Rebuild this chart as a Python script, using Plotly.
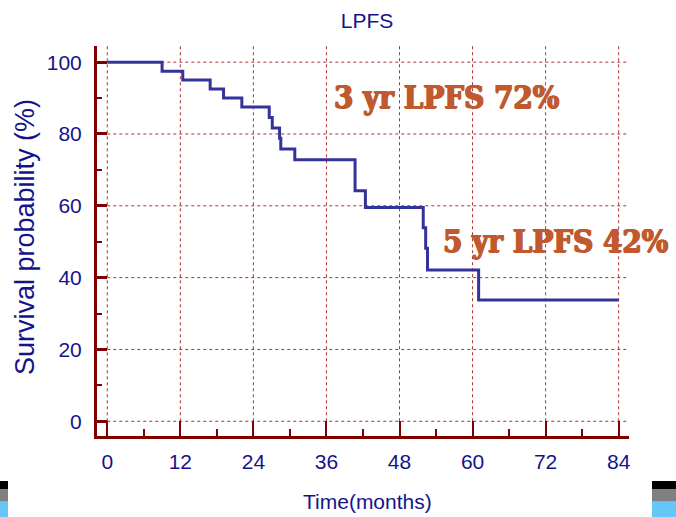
import plotly.graph_objects as go

# Kaplan-Meier estimate for local progression-free survival (LPFS)
event_months = [0, 9.0, 12.4, 16.9, 19.1, 22.1, 26.6, 27.1, 28.3, 28.5, 30.8,
                40.7, 42.4, 51.9, 52.3, 52.6, 61.0, 84.0]
survival_pct = [100, 97.5, 95.0, 92.5, 90.0, 87.5, 84.6, 81.7, 78.8, 75.8, 72.8,
                64.2, 59.5, 53.9, 48.2, 42.1, 33.8, 33.8]

x_ticks = [0, 12, 24, 36, 48, 60, 72, 84]
y_ticks = [0, 20, 40, 60, 80, 100]
x_range = [-1.69, 85.7]
y_range = [-4.1, 104.5]

milestones = ["3 yr LPFS 72%", "5 yr LPFS 42%"]
milestone_pos = [(55.8, 90.3), (73.7, 50.3)]

NAVY = "#14148a"
MAROON = "#800000"
GRID = "#a83232"
CURVE = "#333399"
LABEL = "#c05a2e"
SANS = "Liberation Sans, Arial"

fig = go.Figure()
fig.add_trace(go.Scatter(
    x=event_months, y=survival_pct, mode="lines",
    line=dict(shape="hv", color=CURVE, width=3),
    hoverinfo="x+y", showlegend=False,
))

# plot-area edges in pixels
L, R, T, B = 97, 629, 46, 436
def px_to_paper_x(px):
    return (px - L) / (R - L)
def px_to_paper_y(py):
    return (B - py) / (B - T)

shapes = []
# horizontal dotted grid from t=0 to the right edge
for v in y_ticks:
    shapes.append(dict(type="line", xref="x", yref="y", x0=0, x1=x_range[1],
                       y0=v, y1=v, layer="below",
                       line=dict(color=GRID, width=1, dash="dot")))
# vertical dotted grid from 0 % to the top edge
for t in x_ticks:
    shapes.append(dict(type="line", xref="x", yref="y", x0=t, x1=t,
                       y0=0, y1=y_range[1], layer="below",
                       line=dict(color=GRID, width=1, dash="dot")))

# colour swatches in the lower corners
swatches = [("#000000", 481, 489), ("#808080", 489, 501.7), ("#66c6f7", 501.7, 517)]
for col, top, bot in swatches:
    for x0, x1 in [(0, 8), (652, 676)]:
        shapes.append(dict(type="rect", xref="paper", yref="paper",
                           x0=px_to_paper_x(x0), x1=px_to_paper_x(x1),
                           y0=px_to_paper_y(bot), y1=px_to_paper_y(top),
                           line=dict(width=0), fillcolor=col, layer="above"))

annotations = []
for text, (ax, ay) in zip(milestones, milestone_pos):
    annotations.append(dict(
        x=ax, y=ay, xref="x", yref="y", text=text, showarrow=False,
        xanchor="center", yanchor="middle",
        font=dict(family="DejaVu Serif Condensed, DejaVu Serif, serif", size=31,
                  color=LABEL, weight="bold",
                  shadow=f"0.8px 0 0 {LABEL}, -0.8px 0 0 {LABEL}, 0 0.8px 0 {LABEL}"),
    ))

# axis titles
annotations.append(dict(
    text="Time(months)", xref="paper", yref="paper",
    x=px_to_paper_x(367), y=px_to_paper_y(501), xanchor="center", yanchor="middle",
    showarrow=False, font=dict(family=SANS, size=21, color=NAVY)))
annotations.append(dict(
    text="Survival probability (%)", xref="paper", yref="paper", textangle=-90,
    x=px_to_paper_x(25), y=px_to_paper_y(237), xanchor="center", yanchor="middle",
    showarrow=False, font=dict(family=SANS, size=27, color=NAVY)))

fig.update_layout(
    width=676, height=517,
    margin=dict(l=L, r=676 - R, t=T, b=517 - B, autoexpand=False),
    paper_bgcolor="white", plot_bgcolor="white",
    title=dict(text="LPFS", x=0.543, xanchor="center", y=1 - 21 / 517,
               yanchor="middle", font=dict(family=SANS, size=21, color=NAVY)),
    shapes=shapes, annotations=annotations,
    xaxis=dict(
        range=x_range, tickvals=x_ticks, showgrid=False, zeroline=False,
        showline=True, linecolor=MAROON, linewidth=3, automargin=False,
        ticks="inside", ticklen=15, tickwidth=2, tickcolor=MAROON,
        minor=dict(dtick=6, tick0=0, ticks="inside", ticklen=7, tickwidth=2,
                   tickcolor=MAROON, showgrid=False),
        tickfont=dict(family=SANS, size=21, color=NAVY),
        ticklabelstandoff=5,
    ),
    yaxis=dict(
        range=y_range, tickvals=y_ticks, showgrid=False, zeroline=False,
        showline=True, linecolor=MAROON, linewidth=3, automargin=False,
        ticks="inside", ticklen=10, tickwidth=3, tickcolor=MAROON,
        minor=dict(dtick=10, tick0=0, ticks="inside", ticklen=5, tickwidth=2,
                   tickcolor=MAROON, showgrid=False),
        tickfont=dict(family=SANS, size=21, color=NAVY),
        ticklabelstandoff=8,
    ),
)

fig.write_html("out.html")
